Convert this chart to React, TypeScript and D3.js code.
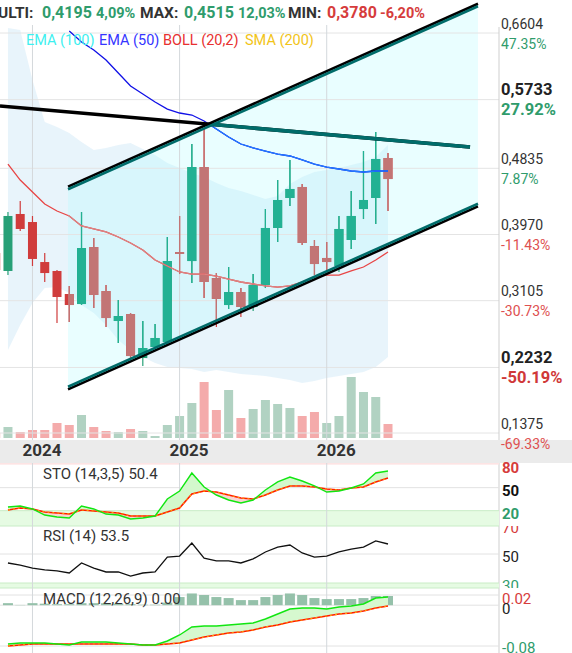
import React from "react";
import * as d3 from "d3";

const months = [
  "2023-10","2023-11","2023-12",
  "2024-01","2024-02","2024-03","2024-04","2024-05","2024-06","2024-07","2024-08","2024-09","2024-10","2024-11","2024-12",
  "2025-01","2025-02","2025-03","2025-04","2025-05","2025-06","2025-07","2025-08","2025-09","2025-10","2025-11","2025-12",
  "2026-01","2026-02","2026-03","2026-04","2026-05","2026-06",
];
const openP = [0.3728,0.3493,0.4238,0.4133,0.3610,0.3493,0.3192,0.3061,0.3806,0.3231,0.2839,0.2930,0.2355,0.2499,0.2564,0.3741,0.3623,0.4852,0.3401,0.3048,0.3218,0.3022,0.3310,0.4055,0.4447,0.4591,0.3819,0.3663,0.3558,0.3898,0.4303,0.4447,0.4970];
const highP = [0.3793,0.4264,0.4408,0.4212,0.3728,0.3506,0.3297,0.4264,0.3924,0.3310,0.3114,0.2944,0.2839,0.2800,0.3937,0.4212,0.5153,0.5362,0.3466,0.3545,0.3270,0.3453,0.4303,0.4682,0.4944,0.4630,0.3898,0.3872,0.4212,0.4538,0.5061,0.5310,0.5035];
const lowP = [0.3440,0.3440,0.4016,0.3558,0.3349,0.2813,0.2826,0.3048,0.3009,0.2761,0.2551,0.2355,0.2251,0.2486,0.2525,0.3453,0.3336,0.3140,0.2761,0.2996,0.2891,0.2970,0.3270,0.3872,0.4342,0.3833,0.3440,0.3480,0.3480,0.3780,0.4172,0.4107,0.4277];
const closeP = [0.3506,0.4212,0.4042,0.3650,0.3466,0.3153,0.3048,0.3793,0.3179,0.2878,0.2904,0.2381,0.2486,0.2617,0.3623,0.3715,0.4852,0.3349,0.3127,0.3218,0.3022,0.3310,0.4055,0.4421,0.4565,0.3859,0.3584,0.3610,0.4042,0.4212,0.4421,0.4957,0.4695];
const volumeM = [5,11,6,8,8,15,13,23,11,7,6,9,7,2,13,22,35,56,28,48,20,29,38,34,30,22,26,15,22,61,46,41,14];

const bollUpper = [null,0.6669,0.6643,0.5990,0.5441,0.5375,0.5297,0.5179,0.5074,0.5101,0.5140,0.5166,0.5088,0.5009,0.4905,0.4839,0.4774,0.4721,0.4643,0.4578,0.4538,0.4486,0.4434,0.4473,0.4630,0.4721,0.4787,0.4813,0.4839,0.4879,0.4918,0.4983,0.5140];
const bollMid = [null,0.4891,0.4682,0.4525,0.4368,0.4277,0.4212,0.4081,0.4042,0.4003,0.3937,0.3859,0.3767,0.3637,0.3558,0.3480,0.3453,0.3453,0.3427,0.3388,0.3349,0.3323,0.3297,0.3283,0.3297,0.3349,0.3414,0.3440,0.3440,0.3493,0.3545,0.3637,0.3741];
const bollLower = [null,0.2460,0.2787,0.3074,0.3270,0.3283,0.3205,0.3048,0.2944,0.2787,0.2591,0.2460,0.2368,0.2290,0.2238,0.2225,0.2212,0.2172,0.2199,0.2172,0.2146,0.2133,0.2120,0.2094,0.2068,0.2029,0.2055,0.2094,0.2120,0.2146,0.2172,0.2238,0.2368];
const ema50 = [null,null,null,null,null,null,0.6630,0.6486,0.6382,0.6251,0.6081,0.5911,0.5806,0.5702,0.5610,0.5558,0.5532,0.5454,0.5349,0.5245,0.5153,0.5101,0.5061,0.5022,0.4996,0.4944,0.4891,0.4852,0.4826,0.4800,0.4787,0.4800,0.4800];

const stoK = [null,24.8,26.1,22.2,14.3,11.7,10.4,26.1,22.2,15.6,14.3,9.1,10.4,13.0,35.2,45.6,69.1,50.8,40.4,33.9,30.0,33.9,46.9,57.4,63.9,58.7,52.2,44.3,45.6,49.5,54.8,69.1,71.7];
const stoD = [null,20.9,23.5,22.2,18.3,16.9,15.6,20.9,19.6,18.3,16.9,13.0,13.0,13.0,18.3,23.5,41.7,45.6,44.3,40.4,36.5,35.2,40.4,46.9,52.2,52.2,50.8,48.2,46.9,49.5,50.8,57.4,62.6];
const rsiV = [null,43.8,42.4,40.3,39.0,38.3,36.9,43.8,40.3,37.6,37.6,34.8,36.9,37.6,47.9,48.6,57.6,47.2,45.2,45.2,43.8,46.6,51.4,54.8,56.2,50.7,47.9,48.6,51.4,53.4,54.8,59.0,56.9];
const macdLine = [null,-0.0761,-0.0741,-0.0741,-0.0741,-0.0761,-0.0780,-0.0722,-0.0722,-0.0722,-0.0741,-0.0761,-0.0780,-0.0780,-0.0702,-0.0584,-0.0427,-0.0408,-0.0408,-0.0388,-0.0369,-0.0349,-0.0271,-0.0173,-0.0075,-0.0055,-0.0055,-0.0075,-0.0035,-0.0016,0.0024,0.0141,0.0161];
const macdSignal = [null,-0.0800,-0.0780,-0.0761,-0.0761,-0.0761,-0.0761,-0.0761,-0.0761,-0.0761,-0.0761,-0.0761,-0.0780,-0.0780,-0.0761,-0.0741,-0.0682,-0.0624,-0.0584,-0.0545,-0.0525,-0.0486,-0.0427,-0.0388,-0.0329,-0.0290,-0.0251,-0.0212,-0.0173,-0.0153,-0.0114,-0.0055,-0.0016];
const macdHist = [null,0.004,0.0005,0.004,0.003,0.002,0.002,0.004,0.004,0.004,0.003,0.002,0.001,0.001,0.005,0.016,0.023,0.020,0.016,0.014,0.010,0.010,0.016,0.020,0.023,0.020,0.014,0.012,0.012,0.012,0.014,0.018,0.018];

// trendlines: [month index, price]
const channelUpper = [[5.9, 0.4578], [39.34, 0.697]];
const channelLower = [[5.9, 0.1963], [39.34, 0.4355]];
const resistance = [[0.35, 0.565], [38.69, 0.5114]];

const priceTicks = [0.6604, 0.5733, 0.4835, 0.397, 0.3105, 0.2232, 0.1375];
const pctTicks = ["47.35%", "27.92%", "7.87%", "-11.43%", "-30.73%", "-50.19%", "-69.33%"];
const boldTicks = [0.5733, 0.2232];
const yearTicks = ["2024-01", "2025-01", "2026-01"];

const headerLabels = ["ULTI:", "MAX:", "MIN:"];
const headerValues = ["0,4195", "0,4515", "0,3780"];
const headerPcts = ["4,09%", "12,03%", "-6,20%"];
const legendNames = ["EMA (100)", "EMA (50)", "BOLL (20,2)", "SMA (200)"];
const stoTicks = [80, 50, 20];
const rsiTicks = [70, 50, 30];
const macdTicks = [0.02, 0, -0.08];

const GREEN_TXT = "#2f9c6c";
const RED_TXT = "#d63c3c";

export default function App() {
  const n = months.length;
  const idx = d3.range(n);
  const x = d3.scaleLinear().domain([0, n - 1]).range([-4.3, 388]);
  const y = d3.scaleLinear().domain([0.1375, 0.6604]).range([433, 33]);
  const vol = d3.scaleLinear().domain([0, d3.max(volumeM) as number]).range([438, 377]);
  const sto = d3.scaleLinear().domain([0, 100]).range([526, 449.3]);
  const rsiY = d3.scaleLinear().domain([30, 70]).range([583, 525]);
  const macdY = d3.scaleLinear().domain([-0.08, 0.02]).range([646, 595]);
  const RIGHT = 499;

  const mkLine = (vals: (number | null)[], sc: (v: number) => number) =>
    d3.line<number>().defined((i) => vals[i] != null).x((i) => x(i)).y((i) => sc(vals[i] as number))(idx) || "";
  const seg = (pts: number[][]) => d3.line<number[]>().x((p) => x(p[0])).y((p) => y(p[1]))(pts) || "";

  const bollArea = d3.area<number>().defined((i) => bollUpper[i] != null)
    .x((i) => x(i)).y0((i) => y(bollLower[i] as number)).y1((i) => y(bollUpper[i] as number))(idx) || "";

  const chanPoly = [
    [x(channelUpper[0][0]), y(channelUpper[0][1])],
    [x(channelUpper[1][0]), y(channelUpper[1][1])],
    [x(channelLower[1][0]), y(channelLower[1][1])],
    [x(channelLower[0][0]), y(channelLower[0][1])],
  ].map((p) => p.join(",")).join(" ");

  const between = (a: (number | null)[], b: (number | null)[], sc: (v: number) => number) =>
    d3.area<number>().defined((i) => a[i] != null).x((i) => x(i)).y0((i) => sc(b[i] as number)).y1((i) => sc(a[i] as number))(idx) || "";
  const sideOf = (b: (number | null)[], sc: (v: number) => number, edge: number) =>
    d3.area<number>().defined((i) => b[i] != null).x((i) => x(i)).y0(() => edge).y1((i) => sc(b[i] as number))(idx) || "";

  const candles = (up: string, down: string) =>
    idx.map((i) => {
      const o = openP[i], c = closeP[i];
      const col = c >= o ? up : down;
      const top = y(Math.max(o, c)), bot = y(Math.min(o, c));
      return (
        <g key={i}>
          <line x1={x(i)} x2={x(i)} y1={y(highP[i])} y2={y(lowP[i])} stroke={col} strokeWidth={1.2} />
          <rect x={x(i) - 4.5} width={9} y={top} height={Math.max(1.6, bot - top)} fill={col} />
        </g>
      );
    });

  const vGrid = yearTicks.map((m) => x(months.indexOf(m)));

  return (
    <svg width={572} height={653} style={{ position: "absolute", left: 0, top: 0, fontFamily: "Roboto, sans-serif" }}>
      <defs>
        <clipPath id="chan"><polygon points={chanPoly} /></clipPath>
        <clipPath id="mainClip"><rect x={0} y={0} width={RIGHT} height={440} /></clipPath>
        <clipPath id="stoAbove"><path d={sideOf(stoD, sto, 440)} /></clipPath>
        <clipPath id="stoBelow"><path d={sideOf(stoD, sto, 530)} /></clipPath>
        <clipPath id="macdAbove"><path d={sideOf(macdSignal, macdY, 588)} /></clipPath>
        <clipPath id="macdBelow"><path d={sideOf(macdSignal, macdY, 653)} /></clipPath>
        <clipPath id="rsiLab"><rect x={RIGHT} y={526} width={80} height={62} /></clipPath>
      </defs>
      <rect x={0} y={0} width={572} height={653} fill="#fff" />

      {/* MAIN PANEL */}
      <g clipPath="url(#mainClip)">
        <path d={bollArea} fill="rgb(100,180,230)" fillOpacity={0.15} />
        <polygon points={chanPoly} fill="#aefaff" fillOpacity={0.27} />
        {idx.map((i) => {
          const up = i === 0 ? closeP[i] >= openP[i] : closeP[i] >= closeP[i - 1];
          return (
            <rect key={i} x={x(i) - 4.5} width={9} y={vol(volumeM[i])} height={438 - vol(volumeM[i])}
              fill={up ? "#b1d2c2" : "#f4abab"} />
          );
        })}
        {priceTicks.map((p) => (
          <line key={p} x1={0} x2={RIGHT} y1={y(p)} y2={y(p)} stroke="#e4e4e4" strokeWidth={1} />
        ))}
        {vGrid.map((gx, k) => (
          <line key={k} x1={gx} x2={gx} y1={25} y2={440} stroke="#d4d8dc" strokeWidth={1} />
        ))}
        {candles("#27a077", "#d03c3c")}
        <g clipPath="url(#chan)">{candles("#22b193", "#c27575")}</g>

        <path d={mkLine(bollMid, y)} fill="none" stroke="#e84444" strokeWidth={1.3} />
        <path d={mkLine(bollMid, y)} fill="none" stroke="#dc8282" strokeWidth={1.3} clipPath="url(#chan)" />
        <path d={mkLine(ema50, y)} fill="none" stroke="#1010e6" strokeWidth={1.3} />
        <path d={mkLine(ema50, y)} fill="none" stroke="#2079ff" strokeWidth={1.3} clipPath="url(#chan)" />

        <path d={seg(resistance)} fill="none" stroke="#000" strokeWidth={3.6} />
        <path d={seg(resistance)} fill="none" stroke="#006c6a" strokeWidth={3.6} clipPath="url(#chan)" />

        <path d={seg(channelUpper)} transform="translate(0,-1.3)" fill="none" stroke="#000" strokeWidth={2.6} />
        <path d={seg(channelUpper)} transform="translate(0,1.3)" fill="none" stroke="#006c6a" strokeWidth={2.6} />
        <path d={seg(channelLower)} transform="translate(0,1.3)" fill="none" stroke="#000" strokeWidth={2.6} />
        <path d={seg(channelLower)} transform="translate(0,-1.3)" fill="none" stroke="#006c6a" strokeWidth={2.6} />
      </g>

      {/* header */}
      <g fontWeight="bold">
        {[[-2, 42, 96], [140, 184, 238], [288, 327, 380]].map((pos, k) => (
          <g key={k}>
            <text x={pos[0]} y={18} fontSize={15.5} fill="#333">{headerLabels[k]}</text>
            <text x={pos[1]} y={18} fontSize={16} fill={k === 2 ? RED_TXT : GREEN_TXT}>{headerValues[k]}</text>
            <text x={pos[2]} y={18} fontSize={14.5} fill={k === 2 ? RED_TXT : GREEN_TXT}>{headerPcts[k]}</text>
          </g>
        ))}
      </g>
      {/* legend */}
      <g fontSize={14.5}>
        {legendNames.map((nm, k) => (
          <text key={nm} x={[26, 99, 163, 245][k]} y={45} fill={["#3ef0f0", "#3535ff", "#e83030", "#f2c418"][k]}>{nm}</text>
        ))}
      </g>

      {/* right axis */}
      <line x1={RIGHT} x2={RIGHT} y1={27} y2={653} stroke="#cfcfcf" strokeWidth={1} />
      {priceTicks.map((p, k) => {
        const b = boldTicks.includes(p);
        const neg = pctTicks[k].startsWith("-");
        return (
          <g key={p} fontSize={b ? 16.5 : 14} fontWeight={b ? "bold" : "normal"}>
            <text x={501} y={y(p) - 4.5} fill={b ? "#222" : "#333"}>{p.toFixed(4).replace(".", ",")}</text>
            {k < priceTicks.length - 1 && (
              <text x={501} y={y(p) + 15.5} fill={neg ? (b ? "#d03838" : "#de5050") : GREEN_TXT}>{pctTicks[k]}</text>
            )}
          </g>
        );
      })}

      {/* STO panel */}
      <rect x={0} y={sto(100)} width={RIGHT} height={sto(80) - sto(100)} fill="#fde4e4" />
      <rect x={0} y={sto(20)} width={RIGHT} height={sto(0) - sto(20)} fill="#e6fbe3" />
      <line x1={0} x2={RIGHT} y1={sto(20)} y2={sto(20)} stroke="#c9ecc6" />
      <line x1={0} x2={RIGHT} y1={sto(0)} y2={sto(0)} stroke="#c9ecc6" />
      <line x1={0} x2={RIGHT} y1={sto(50)} y2={sto(50)} stroke="#e2e2e2" />

      {/* RSI panel */}
      <line x1={0} x2={RIGHT} y1={rsiY(50)} y2={rsiY(50)} stroke="#e2e2e2" />
      <rect x={0} y={rsiY(30)} width={RIGHT} height={588 - rsiY(30)} fill="#e6fbe3" />
      <line x1={0} x2={RIGHT} y1={rsiY(30)} y2={rsiY(30)} stroke="#c9ecc6" />
      <line x1={0} x2={RIGHT} y1={588} y2={588} stroke="#c9ecc6" />

      {/* MACD panel */}
      {macdTicks.map((t) => (
        <line key={t} x1={0} x2={RIGHT} y1={macdY(t)} y2={macdY(t)} stroke="#e2e2e2" />
      ))}

      {vGrid.map((gx, k) => (
        <line key={k} x1={gx} x2={gx} y1={463} y2={653} stroke="#d4d8dc" strokeWidth={1} />
      ))}

      {/* STO lines */}
      <path d={between(stoK, stoD, sto)} fill="#d3f8cc" clipPath="url(#stoAbove)" />
      <path d={between(stoK, stoD, sto)} fill="#f9d3d3" clipPath="url(#stoBelow)" />
      <path d={mkLine(stoD, sto)} fill="none" stroke="#ff1a00" strokeWidth={1.6} />
      <path d={mkLine(stoD, sto)} fill="none" stroke="#ffa200" strokeWidth={1.1} strokeDasharray="2,3" />
      <path d={mkLine(stoK, sto)} fill="none" stroke="#11e611" strokeWidth={1.4} />

      {/* RSI line */}
      <path d={mkLine(rsiV, rsiY)} fill="none" stroke="#111" strokeWidth={1.3} />

      {/* MACD */}
      {idx.filter((i) => macdHist[i] != null).map((i) => (
        <rect key={i} x={x(i) - 5} width={10} y={macdY(macdHist[i] as number)}
          height={macdY(0) - macdY(macdHist[i] as number)} fill="#95c1aa" />
      ))}
      <path d={between(macdLine, macdSignal, macdY)} fill="#d6f8cf" clipPath="url(#macdAbove)" />
      <path d={between(macdLine, macdSignal, macdY)} fill="#f9d3d3" clipPath="url(#macdBelow)" />
      <path d={mkLine(macdSignal, macdY)} fill="none" stroke="#ff1a00" strokeWidth={1.6} />
      <path d={mkLine(macdSignal, macdY)} fill="none" stroke="#ffa200" strokeWidth={1.1} strokeDasharray="2,3" />
      <path d={mkLine(macdLine, macdY)} fill="none" stroke="#11e611" strokeWidth={1.4} />

      {/* panel titles */}
      <g fontSize={15} fill="#333">
        <text x={43} y={479}>STO (14,3,5) 50.4</text>
        <text x={43} y={541}>RSI (14) 53.5</text>
        <text x={43} y={604}>MACD (12,26,9) 0.00</text>
      </g>

      {/* x axis band */}
      <rect x={0} y={440} width={572} height={23} fill="#ebebeb" />
      {yearTicks.map((m) => (
        <text key={m} x={x(months.indexOf(m)) + 9.5} y={456} textAnchor="middle" fontSize={17} fontWeight="bold" fill="#333">
          {m.slice(0, 4)}
        </text>
      ))}
      {/* last pct label sits over the band */}
      <text x={501} y={y(priceTicks[6]) + 15.5} fontSize={14} fill="#de5050">{pctTicks[6]}</text>

      {/* indicator axis labels */}
      <g fontSize={15} fontWeight="bold">
        {stoTicks.map((t, k) => (
          <text key={t} x={502} y={sto(t) + 8} fill={[RED_TXT, "#111", GREEN_TXT][k]}>{t}</text>
        ))}
      </g>
      <g fontSize={15} clipPath="url(#rsiLab)">
        {rsiTicks.map((t, k) => (
          <text key={t} x={502} y={rsiY(t) + 8} fill={[RED_TXT, "#222", GREEN_TXT][k]}>{t}</text>
        ))}
      </g>
      <g fontSize={15}>
        {macdTicks.map((t, k) => (
          <text key={t} x={502} y={macdY(t) + (k === 2 ? 7 : 9)} fill={[RED_TXT, "#222", GREEN_TXT][k]}>{String(t)}</text>
        ))}
      </g>
    </svg>
  );
}
